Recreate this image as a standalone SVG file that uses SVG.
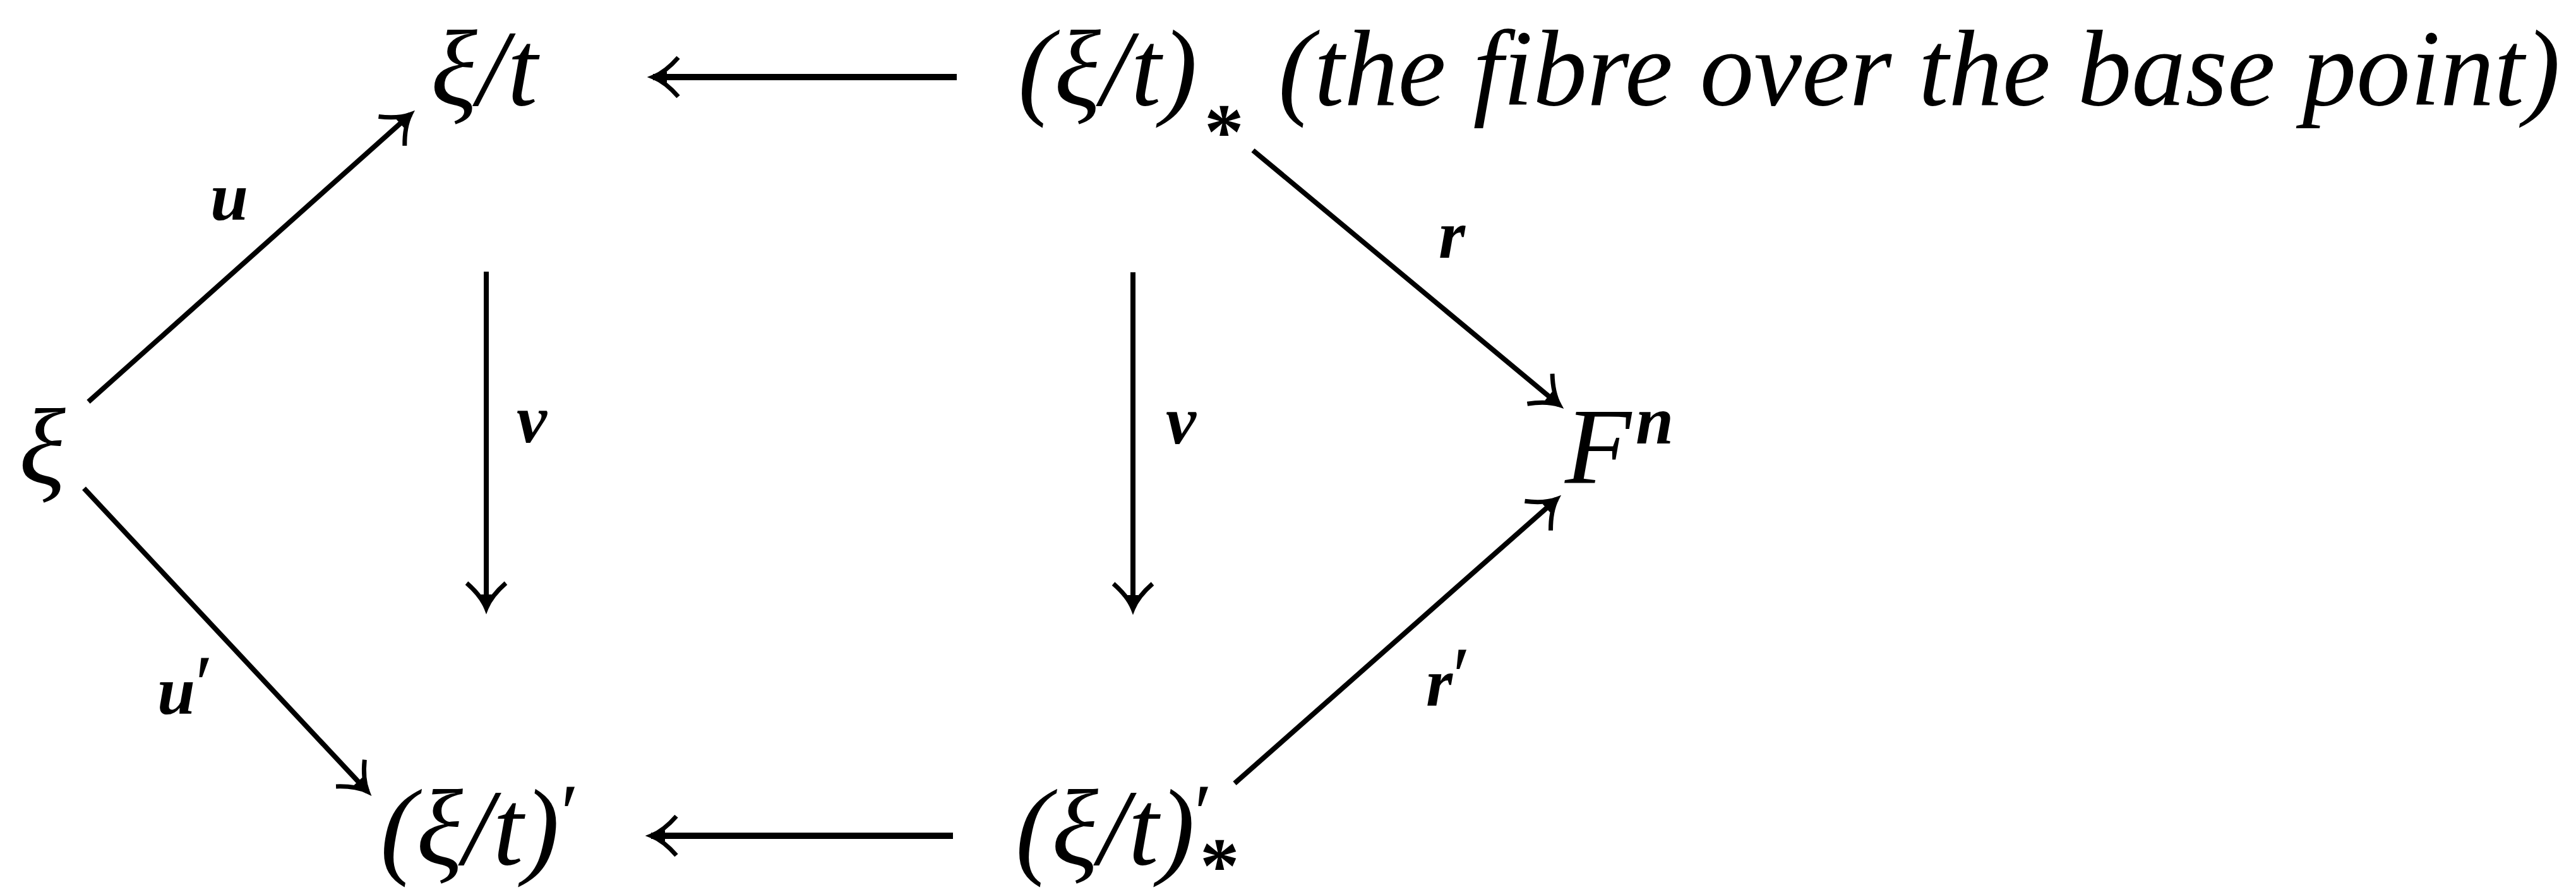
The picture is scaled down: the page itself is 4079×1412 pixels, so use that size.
<svg xmlns="http://www.w3.org/2000/svg" width="4079" height="1412" viewBox="0 0 4079 1412">
<style>
  .n { font-family: "Liberation Serif", "Times New Roman", serif; font-style: italic; font-size: 172px; fill: #000; }
  .lbl { font-family: "Liberation Serif", "Times New Roman", serif; font-style: italic; font-weight: bold; font-size: 108px; fill: #000; }
  .ast { font-family: "Liberation Serif", "Times New Roman", serif; font-style: normal; font-weight: bold; font-size: 125px; fill: #000; }
  .pr { font-family: "Liberation Serif", "Times New Roman", serif; font-style: normal; font-weight: normal; font-size: 130px; fill: #000; }
  .edge { stroke: #000; stroke-width: 8; fill: none; stroke-linecap: butt; }
  .edge.h { stroke-width: 10; }
</style>
<defs>
  <marker id="arr" markerUnits="userSpaceOnUse" viewBox="-50 -40 56 80" refX="0" refY="0" markerWidth="56" markerHeight="80" orient="auto" overflow="visible">
    <path d="M -40,-31 Q -20,-8 0,0 Q -20,8 -40,31" fill="none" stroke="#000" stroke-width="7" stroke-linejoin="miter"/>
    <path d="M 0,0 L -22,-9 L -22,9 Z" fill="#000"/>
  </marker>
</defs>

<g id="connectors">
  <line class="edge h" x1="1515" y1="122" x2="1034" y2="122" marker-end="url(#arr)"/>
  <line class="edge h" x1="1509" y1="1323" x2="1031" y2="1323" marker-end="url(#arr)"/>
  <line class="edge" x1="140" y1="636" x2="650" y2="181" marker-end="url(#arr)"/>
  <line class="edge" x1="133" y1="773" x2="582" y2="1253" marker-end="url(#arr)"/>
  <line class="edge" x1="770" y1="430" x2="770" y2="963" marker-end="url(#arr)"/>
  <line class="edge" x1="1794" y1="431" x2="1794" y2="964" marker-end="url(#arr)"/>
  <line class="edge" x1="1984" y1="238" x2="2469" y2="641" marker-end="url(#arr)"/>
  <line class="edge" x1="1955" y1="1240" x2="2465" y2="790" marker-end="url(#arr)"/>
  <text class="lbl" x="333" y="348">u</text>
  <text class="lbl" x="818" y="700">v</text>
  <text class="lbl" x="1846" y="702">v</text>
  <text class="lbl" x="249" y="1130">u<tspan class="pr" dy="-4">′</tspan></text>
  <text class="lbl" x="2278" y="408">r</text>
  <text class="lbl" x="2258" y="1117">r<tspan class="pr" dy="-4">′</tspan></text>
</g>

<g id="node-xi">
  <text class="n" x="30" y="765">ξ</text>
</g>

<g id="node-xi-t">
  <text class="n" x="682" y="166">ξ/t</text>
</g>

<g id="node-xi-t-star">
  <text class="n" x="1612" y="166">(ξ/t)<tspan class="ast" x="1907" y="250">*</tspan></text>
  <text class="n" x="2024" y="166" textLength="2030" lengthAdjust="spacingAndGlyphs">(the fibre over the base point)</text>
</g>

<g id="node-Fn">
  <text class="n" x="2478" y="765">F<tspan class="lbl" x="2590" y="702">n</tspan></text>
</g>

<g id="node-xi-t-prime">
  <text class="n" x="602" y="1368">(ξ/t)<tspan class="pr" x="888" y="1330">′</tspan></text>
</g>

<g id="node-xi-t-prime-star">
  <text class="n" x="1608" y="1368">(ξ/t)<tspan class="pr" x="1891" y="1330">′</tspan><tspan class="ast" x="1900" y="1412">*</tspan></text>
</g>
</svg>
